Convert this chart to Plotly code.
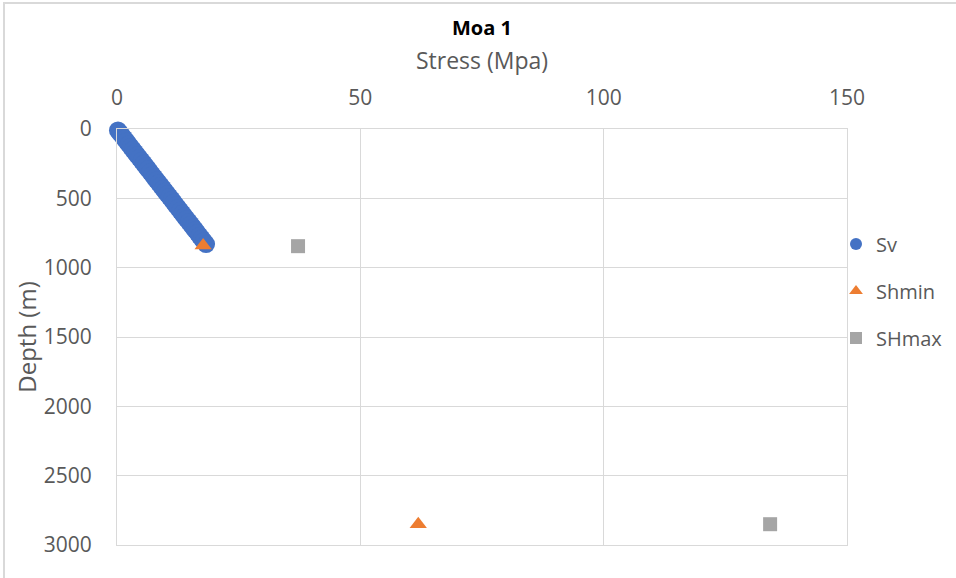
import plotly.graph_objects as go

# Data
sv_depth = [10, 30, 50, 70, 90, 110, 130, 150, 170, 190, 210, 230, 250, 270, 290,
            310, 330, 350, 370, 390, 410, 430, 450, 470, 490, 510, 530, 550, 570,
            590, 610, 630, 650, 670, 690, 710, 730, 750, 770, 790, 810, 830]
sv_stress = [0.20, 0.64, 1.08, 1.52, 1.97, 2.41, 2.85, 3.29, 3.73, 4.17, 4.61, 5.06,
             5.50, 5.94, 6.38, 6.82, 7.26, 7.70, 8.15, 8.59, 9.03, 9.47, 9.91, 10.35,
             10.79, 11.24, 11.68, 12.12, 12.56, 13.00, 13.44, 13.88, 14.32, 14.77,
             15.21, 15.65, 16.09, 16.53, 16.97, 17.41, 17.86, 18.30]
shmin_depth = [840, 2850]
shmin_stress = [17.7, 61.9]
shmax_depth = [845, 2850]
shmax_stress = [37.2, 134.2]

x_ticks = [0, 50, 100, 150]
y_ticks = [0, 500, 1000, 1500, 2000, 2500, 3000]

W, H = 956, 578
L, R, T, B = 117, 109, 129, 33
pw, ph = W - L - R, H - T - B

FONT = "Open Sans"
GRAY = "#595959"
GRID = "#d9d9d9"

fig = go.Figure()
fig.add_trace(go.Scatter(x=sv_stress, y=sv_depth, mode="markers", name="Sv",
                         legendgroup="a", cliponaxis=False,
                         marker=dict(color="#4472c4", size=18, symbol="circle")))
fig.add_trace(go.Scatter(x=shmin_stress, y=shmin_depth, mode="markers", name="Shmin",
                         legendgroup="b", cliponaxis=False,
                         marker=dict(color="#ed7d31", size=15, symbol="triangle-up")))
fig.add_trace(go.Scatter(x=shmax_stress, y=shmax_depth, mode="markers", name="SHmax",
                         legendgroup="c", cliponaxis=False,
                         marker=dict(color="#a5a5a5", size=14, symbol="square")))

# outer chart border (left/top visible)
fig.add_shape(type="rect", xref="paper", yref="paper",
              x0=(4 - L) / pw, x1=(W + 5 - L) / pw,
              y0=1 - (H + 5 - T) / ph, y1=1 - (3 - T) / ph,
              line=dict(color=GRID, width=2), fillcolor="rgba(0,0,0,0)", layer="below")

fig.update_layout(
    width=W, height=H,
    margin=dict(l=L, r=R, t=T, b=B, autoexpand=False),
    paper_bgcolor="white", plot_bgcolor="white",
    font=dict(family=FONT, color=GRAY),
    title=dict(text="<b>Moa 1</b>", x=0.5, xref="paper", xanchor="center",
               y=1 - 28 / H, yanchor="middle", yref="container",
               font=dict(family=FONT, size=20, color="#000000")),
    showlegend=True,
    legend=dict(x=(836 - L) / pw, xanchor="left", y=1 - (291 - T) / ph, yanchor="middle",
                font=dict(family=FONT, size=20, color=GRAY),
                tracegroupgap=18, itemsizing="constant", bgcolor="rgba(0,0,0,0)"),
    xaxis=dict(side="top", range=[0, 150], tickvals=x_ticks, ticktext=[str(v) for v in x_ticks],
               showgrid=True, gridcolor=GRID, gridwidth=1, zeroline=False,
               showline=True, linecolor=GRID, mirror=True, ticks="", ticklabelstandoff=15,
               automargin=False,
               tickfont=dict(family=FONT, size=21, color=GRAY),
               title=dict(text="Stress (Mpa)", standoff=6,
                          font=dict(family=FONT, size=23, color=GRAY))),
    yaxis=dict(range=[3000, 0], tickvals=y_ticks, ticktext=[str(v) for v in y_ticks],
               showgrid=True, gridcolor=GRID, gridwidth=1, zeroline=False,
               showline=True, linecolor=GRID, mirror=True, ticks="",
               ticklabelstandoff=20, automargin=False,
               tickfont=dict(family=FONT, size=21, color=GRAY),
               title=dict(text="Depth (m)", standoff=0,
                          font=dict(family=FONT, size=24, color=GRAY))),
)

fig.write_html("out.html", config={"displayModeBar": False},
               post_script="document.body.style.margin='0';document.body.style.overflow='hidden';")
